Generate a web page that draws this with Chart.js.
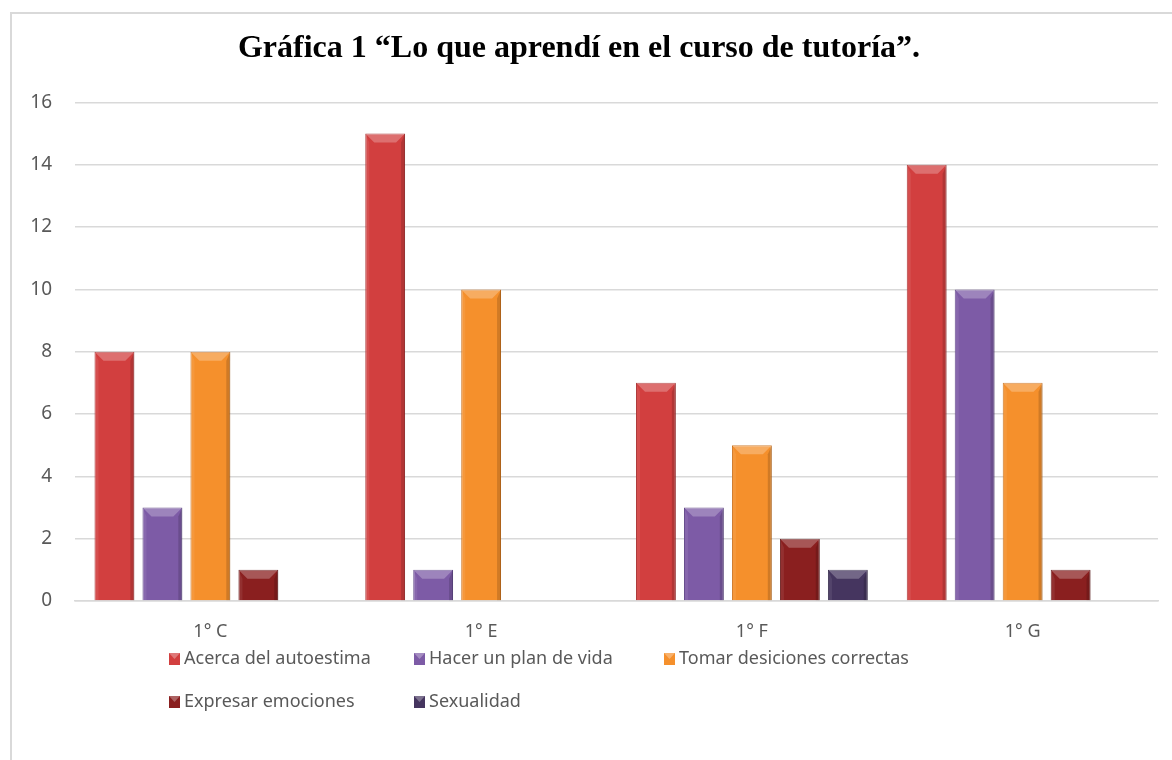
<!DOCTYPE html>
<html lang="es">
<head>
<meta charset="utf-8">
<title>Gráfica 1</title>
<script src="https://cdn.jsdelivr.net/npm/chart.js@4.4.1/dist/chart.umd.min.js"></script>
<style>
  html, body { margin: 0; padding: 0; background: #fff; overflow: hidden; }
  #frame {
    position: absolute; left: 10px; top: 12px;
    width: 1300px; height: 900px;
    border: 2px solid #d9d9d9;
  }
  #wrap { position: absolute; left: 0; top: 0; width: 1172px; height: 760px; }
</style>
</head>
<body>
<div id="frame"></div>
<div id="wrap"><canvas id="chart" width="1172" height="760"></canvas></div>
<script>
// ===== Data =====
const groups = ['1° C', '1° E', '1° F', '1° G'];
const seriesNames = [
  'Acerca del autoestima',
  'Hacer un plan de vida',
  'Tomar desiciones correctas',
  'Expresar emociones',
  'Sexualidad'
];
const autoestima = [8, 15, 7, 14];
const planVida = [3, 1, 3, 10];
const decisiones = [8, 10, 5, 7];
const emociones = [1, null, 2, 1];
const sexualidad = [null, null, 1, null];
const yTicks = [0, 2, 4, 6, 8, 10, 12, 14, 16];

// Colors (office-style bevel bars)
const fills = ['#d23f3f', '#7d5ba6', '#f5902c', '#8a1f1f', '#45355f'];
const edges = ['#a82c2c', '#5c4185', '#c96d16', '#621212', '#2e2344'];

const textColor = '#595959';
const sansFont = "'Noto Sans', 'Open Sans', sans-serif";

// Simple bevel on top of each bar
const bevelPlugin = {
  id: 'bevel',
  afterDatasetsDraw(chart) {
    const ctx = chart.ctx;
    chart.data.datasets.forEach((ds, i) => {
      const meta = chart.getDatasetMeta(i);
      meta.data.forEach((bar, j) => {
        if (ds.data[j] === null || ds.data[j] === undefined) return;
        const left = bar.x - bar.width / 2;
        const right = bar.x + bar.width / 2;
        const top = bar.y;
        const bottom = bar.base;
        const h = bottom - top;
        const d = Math.min(9, h / 2);
        ctx.save();
        // top light bevel
        ctx.fillStyle = 'rgba(255,255,255,0.25)';
        ctx.beginPath();
        ctx.moveTo(left, top);
        ctx.lineTo(right, top);
        ctx.lineTo(right - d, top + d);
        ctx.lineTo(left + d, top + d);
        ctx.closePath();
        ctx.fill();
        // left highlight
        ctx.fillStyle = 'rgba(255,255,255,0.08)';
        ctx.beginPath();
        ctx.moveTo(left, top);
        ctx.lineTo(left + 4, top + d);
        ctx.lineTo(left + 4, bottom);
        ctx.lineTo(left, bottom);
        ctx.closePath();
        ctx.fill();
        // right shade
        ctx.fillStyle = 'rgba(0,0,0,0.15)';
        ctx.beginPath();
        ctx.moveTo(right, top);
        ctx.lineTo(right - 4, top + d);
        ctx.lineTo(right - 4, bottom);
        ctx.lineTo(right, bottom);
        ctx.closePath();
        ctx.fill();
        ctx.restore();
      });
    });
  }
};

// Legend laid out in Excel-like columns
const legendPlugin = {
  id: 'gridLegend',
  afterDraw(chart) {
    const ctx = chart.ctx;
    const cols = [169, 414, 664];
    const rows = [659, 702];
    ctx.save();
    ctx.font = '18px ' + sansFont;
    ctx.textBaseline = 'middle';
    ctx.textAlign = 'left';
    chart.data.datasets.forEach((ds, i) => {
      const x = cols[i % 3];
      const y = rows[Math.floor(i / 3)];
      ctx.fillStyle = ds.backgroundColor;
      ctx.fillRect(x, y - 6, 11, 12);
      ctx.fillStyle = 'rgba(255,255,255,0.3)';
      ctx.beginPath();
      ctx.moveTo(x, y - 6);
      ctx.lineTo(x + 11, y - 6);
      ctx.lineTo(x + 5.5, y);
      ctx.closePath();
      ctx.fill();
      ctx.fillStyle = textColor;
      ctx.fillText(ds.label, x + 15, y);
    });
    ctx.restore();
  }
};

const seriesData = [autoestima, planVida, decisiones, emociones, sexualidad];

new Chart(document.getElementById('chart').getContext('2d'), {
  type: 'bar',
  data: {
    labels: groups,
    datasets: seriesNames.map((name, i) => ({
      label: name,
      data: seriesData[i],
      backgroundColor: fills[i],
      borderColor: edges[i],
      borderWidth: 1,
      categoryPercentage: 0.886,
      barPercentage: 0.83
    }))
  },
  options: {
    responsive: false,
    animation: false,
    layout: { padding: { left: 0, right: 14, top: 0, bottom: 0 } },
    plugins: {
      legend: { display: false },
      tooltip: { enabled: false },
      title: {
        display: true,
        text: 'Gráfica 1 “Lo que aprendí en el curso de tutoría”.',
        color: '#000',
        font: { family: "'Liberation Serif', 'Times New Roman', serif", size: 32, weight: 'bold' },
        padding: { top: 30, bottom: 34 }
      }
    },
    scales: {
      x: {
        grid: { display: false, drawTicks: false },
        border: { display: true, color: '#d9d9d9', width: 1.5 },
        ticks: { color: textColor, font: { family: sansFont, size: 18 }, padding: 20 },
        afterFit(scale) { scale.height = 159; }
      },
      y: {
        min: 0,
        max: 16,
        afterBuildTicks(scale) { scale.ticks = yTicks.map(v => ({ value: v })); },
        grid: { color: '#d9d9d9', lineWidth: 1.5, drawTicks: false },
        border: { display: false },
        ticks: { color: textColor, font: { family: sansFont, size: 19 }, padding: 23 },
        afterFit(scale) { scale.width = 75; }
      }
    }
  },
  plugins: [bevelPlugin, legendPlugin]
});
</script>
</body>
</html>
